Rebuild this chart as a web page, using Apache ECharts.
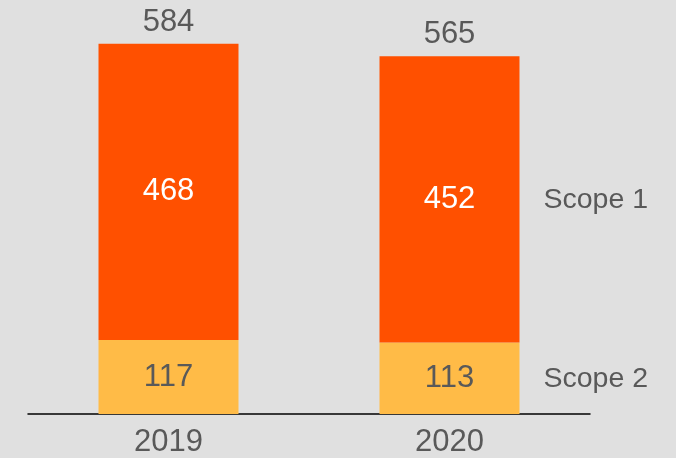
<!DOCTYPE html>
<html lang="en">
<head>
    <meta charset="UTF-8">
    <title>scope emissions</title>
    <style>
        html, body { margin: 0; padding: 0; background: #e0e0e0; }
        #chart1 { width: 676px; height: 458px; }
    </style>
</head>
<body>
<script src="https://cdn.jsdelivr.net/npm/echarts@6/dist/echarts.min.js"></script>
<div id="chart1"></div>
<script type="text/javascript">
    // data
    var years = ['2019', '2020'];
    var scope2 = [117, 113];
    var scope1 = [468, 452];
    var totals = [584, 565];
    var seriesNames = ['Scope 1', 'Scope 2'];

    var textColor = '#595959';
    var font = 'Liberation Sans, Arial, sans-serif';
    var fs = 31;
    var last = years.length - 1;

    // name tag next to the last bar, middle of each segment
    function nameTag(name, mid) {
        return {
            symbol: 'circle',
            symbolSize: 1,
            itemStyle: { color: 'rgba(0,0,0,0)' },
            data: [{ xAxis: last, yAxis: mid }],
            label: {
                show: true,
                position: 'inside',
                align: 'left',
                offset: [94, 1],
                formatter: name,
                color: textColor,
                fontSize: 28.5,
                fontFamily: font
            }
        };
    }

    var myChart1 = echarts.init(document.getElementById('chart1'));
    myChart1.setOption({
        backgroundColor: '#e0e0e0',
        animation: false,
        grid: { left: 28, right: 86, top: 0, bottom: 44 },
        xAxis: {
            type: 'category',
            data: years,
            axisLine: { lineStyle: { color: '#000', width: 1.5 } },
            axisTick: { show: false },
            axisLabel: { color: textColor, fontSize: fs, fontFamily: font, margin: 13 }
        },
        yAxis: {
            type: 'value',
            min: 0,
            max: 654,
            show: false,
            splitLine: { show: false }
        },
        series: [{
            name: seriesNames[1],
            type: 'bar',
            stack: 'all',
            barWidth: 140,
            data: scope2,
            itemStyle: { color: '#ffbb47' },
            label: { show: true, position: 'inside', color: textColor, fontSize: fs, fontFamily: font },
            markPoint: nameTag(seriesNames[1], scope2[last] / 2)
        }, {
            name: seriesNames[0],
            type: 'bar',
            stack: 'all',
            data: scope1,
            itemStyle: { color: '#ff5000' },
            label: { show: true, position: 'inside', color: '#fff', fontSize: fs, fontFamily: font },
            markPoint: nameTag(seriesNames[0], scope2[last] + scope1[last] / 2)
        }, {
            name: 'total',
            type: 'bar',
            stack: 'all',
            data: totals.map(function () { return 0; }),
            label: {
                show: true,
                position: 'top',
                distance: 6,
                color: textColor,
                fontSize: fs,
                fontFamily: font,
                formatter: function (p) { return totals[p.dataIndex]; }
            }
        }]
    });
</script>
</body>
</html>
